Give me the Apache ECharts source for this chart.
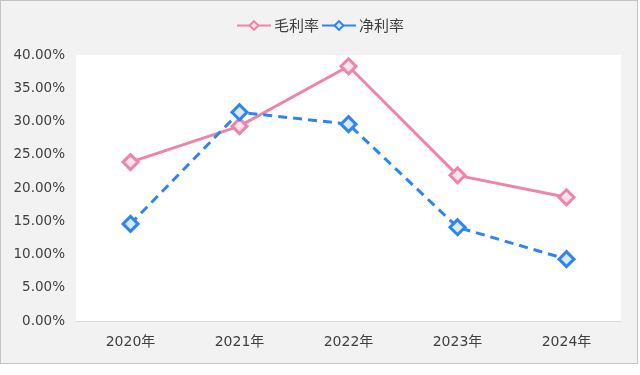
<!DOCTYPE html>
<html><head><meta charset="utf-8">
<script src="https://cdn.jsdelivr.net/npm/echarts@6/dist/echarts.min.js"></script>
<style>
html,body{margin:0;padding:0;background:#fff;}
#frame{position:absolute;left:0;top:0;width:636px;height:362px;border:1px solid #c4c4c4;background:#f2f2f2;}
#chart{position:absolute;left:0;top:0;width:640px;height:375px;}
</style></head>
<body>
<div id="frame"></div>
<div id="chart"></div>
<script>
const categories = ['2020年','2021年','2022年','2023年','2024年'];
const grossMargin = [23.9, 29.3, 38.3, 21.9, 18.6];
const netMargin = [14.6, 31.4, 29.6, 14.1, 9.3];
const seriesNames = ['毛利率','净利率'];

const chart = echarts.init(document.getElementById('chart'), null, {renderer:'canvas'});
const cjk = '"Noto Sans CJK SC","Noto Sans",sans-serif';
const num = '"DejaVu Sans","Noto Sans CJK SC",sans-serif';
chart.setOption({
  backgroundColor: 'transparent',
  textStyle: {fontFamily: cjk},
  legend: {
    top: 13, left: 'center', itemGap: 2, itemWidth: 34, itemHeight: 11,
    textStyle: {fontSize: 15, color: '#404040', fontFamily: cjk, padding:[0,0,0,-2]},
    data: [
      {name: seriesNames[0]},
      {name: seriesNames[1], lineStyle: {type: 'solid'}}
    ]
  },
  grid: {left: 76, right: 19, top: 55, bottom: 54, show: true, backgroundColor: '#ffffff', borderWidth: 0},
  xAxis: {
    type: 'category', data: categories, boundaryGap: true,
    axisLine: {lineStyle: {color: '#d9d9d9', width: 1}},
    axisTick: {show: false},
    axisLabel: {fontSize: 14, color: '#404040', margin: 14, fontFamily: num}
  },
  yAxis: {
    type: 'value', min: 0, max: 40, interval: 5,
    axisLine: {show: false}, axisTick: {show: false}, splitLine: {show: false},
    axisLabel: {fontSize: 13.5, color: '#404040', margin: 11, fontFamily: num,
      formatter: v => v.toFixed(2) + '%'}
  },
  series: [
    {
      name: seriesNames[0], type: 'line', data: grossMargin,
      symbol: 'diamond', symbolSize: 15,
      lineStyle: {color: '#ef84aa', width: 3},
      itemStyle: {color: '#fde4ee', borderColor: '#ef84aa', borderWidth: 3},
      z: 2
    },
    {
      name: seriesNames[1], type: 'line', data: netMargin,
      symbol: 'diamond', symbolSize: 15,
      lineStyle: {color: '#2e84f0', width: 3, type: [9, 6]},
      itemStyle: {color: '#dbe9fc', borderColor: '#2e84f0', borderWidth: 3},
      z: 3
    }
  ]
});
</script>
</body></html>
